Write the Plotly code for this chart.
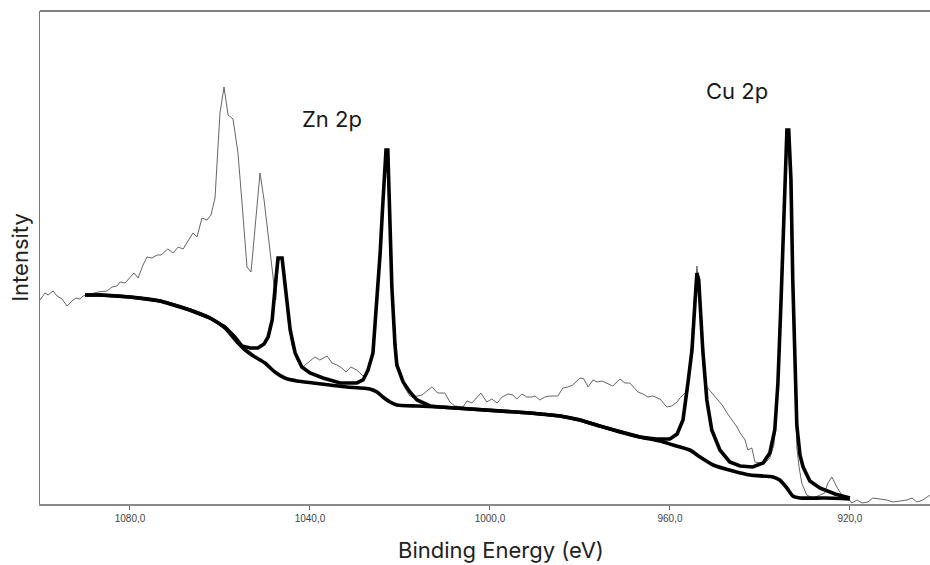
import plotly.graph_objects as go

# ---------------- data (binding energy in eV, intensity in arbitrary units) ----------------
raw_energy = [1100.0, 1098.9, 1098.2, 1097.1, 1096.2, 1095.1, 1094.0, 1092.9, 1092.0, 1091.1,
              1090.4, 1088.9, 1087.1, 1085.1, 1084.0, 1082.9, 1082.2, 1081.1, 1080.0, 1079.1,
              1078.2, 1077.1, 1076.2, 1075.1, 1074.0, 1073.1, 1071.6, 1070.4, 1069.3, 1068.2,
              1067.1, 1066.0, 1065.1, 1064.0, 1062.9, 1062.0, 1061.1, 1060.0, 1059.1, 1058.2,
              1057.1, 1056.0, 1055.1, 1054.0, 1053.1, 1052.0, 1051.1, 1050.2, 1049.3, 1048.2,
              1047.6, 1047.1, 1046.7, 1046.2, 1045.6, 1044.9, 1044.0, 1042.9, 1041.6, 1040.0,
              1038.9, 1037.8, 1036.2, 1035.1, 1034.0, 1032.9, 1032.0, 1030.9, 1029.6, 1028.2,
              1027.1, 1026.0, 1025.1, 1024.4, 1023.8, 1023.1, 1022.7, 1022.2, 1021.8, 1021.1,
              1020.0, 1018.9, 1017.8, 1017.1, 1015.1, 1012.9, 1011.6, 1010.0, 1008.9, 1007.8,
              1006.0, 1005.1, 1004.0, 1002.0, 1000.7, 999.6, 998.4, 997.3, 996.0, 994.9,
              994.0, 992.9, 991.8, 990.7, 990.0, 988.9, 987.8, 986.7, 984.9, 983.8,
              982.7, 981.6, 980.0, 979.1, 978.2, 977.1, 976.2, 975.1, 974.0, 972.7,
              971.1, 970.0, 968.9, 967.1, 966.0, 964.9, 963.8, 962.2, 960.7, 959.6,
              958.4, 957.8, 956.4, 956.0, 955.3, 954.7, 954.0, 953.3, 952.9, 952.4,
              951.8, 950.7, 949.6, 948.4, 947.3, 946.2, 945.1, 944.4, 943.3, 942.7,
              941.8, 941.1, 940.0, 938.9, 937.8, 936.9, 936.2, 935.6, 934.9, 934.2,
              933.8, 933.3, 932.9, 932.4, 932.0, 931.8, 931.3, 930.7, 929.6, 928.2,
              925.6, 924.9, 924.0, 922.9, 921.8, 920.4, 919.6, 918.4, 917.3, 916.0,
              914.9, 913.3, 911.8, 910.4, 908.9, 907.3, 906.2, 905.1, 903.8, 902.2]
raw_counts = [204, 211, 209, 213, 208, 205, 198, 203, 206, 205,
              208, 210, 212, 213, 217, 218, 222, 221, 227, 231,
              226, 239, 247, 246, 249, 249, 255, 251, 257, 255,
              263, 271, 267, 286, 284, 289, 306, 391, 417, 389,
              385, 351, 301, 237, 232, 284, 331, 304, 267, 227,
              204, 239, 246, 246, 224, 186, 159, 144, 137, 143,
              147, 144, 148, 141, 139, 136, 132, 137, 134, 128,
              132, 149, 199, 252, 304, 352, 352, 284, 217, 154,
              129, 116, 108, 107, 109, 117, 111, 111, 102, 98,
              97, 103, 101, 111, 102, 105, 101, 107, 110, 109,
              105, 110, 107, 107, 108, 104, 107, 108, 108, 116,
              117, 119, 126, 125, 117, 124, 122, 123, 121, 118,
              125, 121, 121, 112, 110, 107, 108, 105, 97, 98,
              102, 106, 112, 124, 154, 199, 238, 204, 154, 126,
              117, 111, 106, 99, 91, 84, 77, 71, 64, 54,
              56, 42, 41, 41, 46, 59, 94, 184, 274, 354,
              372, 324, 244, 154, 84, 57, 37, 21, 9, 6,
              11, 21, 27, 17, 9, 6, 1, 4, 1, 2,
              6, 5, 4, 2, 3, 4, 6, 2, 4, 9]

envelope_energy = [1090.0, 1086.7, 1080.0, 1073.3, 1066.7, 1062.2, 1058.9, 1056.7, 1055.1, 1053.3,
                   1051.6, 1050.2, 1049.3, 1048.4, 1047.8, 1047.1, 1046.2, 1045.6, 1045.1, 1044.4,
                   1043.3, 1041.8, 1040.0, 1037.1, 1033.3, 1029.6, 1028.2, 1027.1, 1026.0, 1025.1,
                   1024.4, 1023.8, 1023.1, 1022.7, 1022.2, 1021.8, 1021.1, 1020.7, 1019.3, 1017.8,
                   1016.2, 1013.3, 1011.1, 1004.4, 997.8, 991.1, 984.4, 980.0, 975.6, 971.1,
                   966.7, 963.1, 960.0, 958.4, 957.1, 956.0, 955.1, 954.4, 954.0, 953.6,
                   953.1, 952.7, 951.8, 950.7, 948.9, 946.7, 944.4, 941.6, 939.3, 937.8,
                   936.7, 936.0, 935.3, 934.9, 934.4, 934.0, 933.6, 933.1, 932.7, 932.2,
                   931.8, 931.1, 930.4, 928.9, 926.7, 923.3, 920.0]
envelope_counts = [209, 209, 207, 203, 194, 186, 177, 167, 158, 156,
                   156, 160, 167, 184, 214, 246, 246, 221, 197, 174,
                   151, 137, 131, 126, 121, 121, 124, 134, 151, 201,
                   251, 301, 354, 354, 284, 217, 159, 139, 122, 112,
                   104, 98, 97, 95, 93, 91, 88, 84, 78, 72,
                   67, 65, 65, 70, 84, 121, 154, 204, 231, 224,
                   184, 154, 104, 74, 54, 42, 38, 37, 41, 51,
                   74, 121, 204, 254, 324, 374, 374, 324, 224, 144,
                   79, 49, 37, 23, 16, 10, 6]

background_energy = [1090.0, 1086.7, 1080.0, 1073.3, 1066.7, 1062.2, 1058.9, 1056.2, 1054.4, 1052.2,
                     1050.0, 1047.8, 1045.6, 1042.9, 1039.3, 1035.6, 1031.8, 1026.7, 1025.1, 1023.8,
                     1022.2, 1020.7, 1016.2, 1011.1, 1004.4, 997.8, 991.1, 984.4, 980.0, 975.6,
                     971.1, 966.7, 962.2, 959.3, 955.6, 953.3, 950.4, 946.0, 942.2, 937.1,
                     935.6, 934.0, 932.7, 931.1, 925.6, 920.0]
background_counts = [209, 209, 207, 203, 194, 186, 176, 162, 154, 147,
                     141, 132, 126, 123, 121, 119, 117, 115, 112, 107,
                     102, 99, 98, 97, 95, 93, 91, 88, 84, 78,
                     72, 67, 63, 59, 54, 47, 39, 33, 29, 27,
                     24, 16, 8, 6, 6, 5]

tick_values = [1080.0, 1040.0, 1000.0, 960.0, 920.0]
peak_labels = ["Zn 2p", "Cu 2p"]
peak_label_energy = [1035.0, 945.0]
peak_label_counts = [385, 413]
x_title = "Binding Energy (eV)"
y_title = "Intensity"

TITLE_FONT = "Inter"

# ---------------- figure ----------------
fig = go.Figure()
fig.add_trace(go.Scatter(x=raw_energy, y=raw_counts, mode="lines",
                         line=dict(color="#666666", width=1), name="raw", showlegend=False))
fig.add_trace(go.Scatter(x=background_energy, y=background_counts, mode="lines",
                         line=dict(color="#000000", width=3.6, shape="spline", smoothing=0.6),
                         name="background", showlegend=False))
fig.add_trace(go.Scatter(x=envelope_energy, y=envelope_counts, mode="lines",
                         line=dict(color="#000000", width=3.6),
                         name="envelope", showlegend=False))

for lab, ex, ey in zip(peak_labels, peak_label_energy, peak_label_counts):
    fig.add_annotation(x=ex, y=ey, text=lab, showarrow=False,
                       font=dict(family=TITLE_FONT, size=22, color="#1a1a1a"))

# x-axis title, placed slightly right of centre as in the original
fig.add_annotation(xref="paper", yref="paper", x=0.518, y=-0.094, text=x_title,
                   showarrow=False, xanchor="center", yanchor="middle",
                   font=dict(family=TITLE_FONT, size=22, color="#222222"))

fig.update_layout(
    width=930, height=565,
    margin=dict(l=40, r=0, t=11, b=61),
    paper_bgcolor="white", plot_bgcolor="white",
    separators=",.",
    showlegend=False,
    shapes=[dict(type="line", xref="paper", yref="paper", x0=0, x1=1, y0=1, y1=1,
                 line=dict(color="#555555", width=1.5))],
)
fig.update_xaxes(
    range=[1100.0, 902.2], autorange=False,
    tickvals=tick_values, tickformat=".1f",
    ticks="outside", ticklen=4, tickcolor="#666666", tickwidth=1,
    tickfont=dict(family="Liberation Sans", size=10, color="#444444"),
    showline=True, linecolor="#8a8a8a", linewidth=1.5,
    showgrid=False, zeroline=False,
    automargin=False,
)
fig.update_yaxes(
    range=[0, 493], autorange=False,
    showticklabels=False, ticks="",
    showline=True, linecolor="#777777", linewidth=1.2,
    showgrid=False, zeroline=False,
    title=dict(text=y_title, standoff=4,
               font=dict(family=TITLE_FONT, size=22, color="#222222")),
    automargin=False,
)

fig.write_html("out.html")
